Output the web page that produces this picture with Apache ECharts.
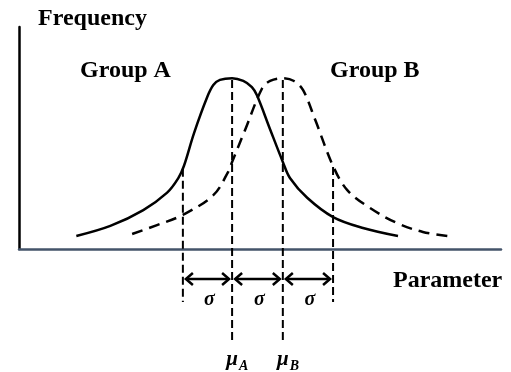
<!DOCTYPE html>
<html>
<head>
<meta charset="utf-8">
<script src="https://cdn.jsdelivr.net/npm/echarts@6/dist/echarts.min.js"></script>
<style>
html, body { margin: 0; padding: 0; background: #fff; }
#chart { width: 511px; height: 372px; }
</style>
</head>
<body>
<div id="chart"></div>
<script>
// curve of group A (solid), [parameter, frequency]
var groupA = [
  [-3.07, 0.076], [-2.40, 0.135], [-1.75, 0.228], [-1.28, 0.33], [-1.06, 0.415],
  [-0.95, 0.486], [-0.75, 0.679], [-0.49, 0.89], [-0.37, 0.96], [-0.24, 0.99],
  [0, 1.0], [0.22, 0.984], [0.39, 0.948], [0.49, 0.90], [0.75, 0.70],
  [1.0, 0.51], [1.14, 0.416], [1.48, 0.30], [1.99, 0.187], [2.58, 0.123], [3.27, 0.076]
];
// curve of group B (dashed)
var groupB = [
  [-1.97, 0.088], [-1.48, 0.14], [-0.97, 0.20], [-0.37, 0.315], [-0.08, 0.45],
  [0, 0.51], [0.26, 0.70], [0.59, 0.94], [0.75, 0.984], [0.985, 1.0],
  [1.22, 0.984], [1.40, 0.93], [1.64, 0.755], [1.99, 0.486], [2.27, 0.345],
  [2.72, 0.24], [3.25, 0.152], [3.76, 0.10], [4.26, 0.076]
];
// dashed drop lines: [x, top, bottom]
var dropLines = [[-0.97, 0.47, -0.31], [0, 0.99, -0.55], [1, 0.99, -0.55], [1.99, 0.48, -0.31]];
// sigma arrows: [from, to, level]
var sigmaArrows = [[-0.97, 0, -0.176], [0, 1, -0.176], [1, 1.99, -0.176]];
var sigmaLabelY = -0.30;
// mean markers: [x, subscript]
var muMarks = [[0, 'A'], [1, 'B']];
var muLabelY = -0.65;

var serif = '"Liberation Serif", "Times New Roman", serif';
var chart = echarts.init(document.getElementById('chart'));

chart.setOption({
  animation: false,
  grid: { left: 19, right: 10, top: 27, bottom: 123 },
  xAxis: {
    type: 'value', min: -4.2, max: 5.3,
    axisLine: { show: true, onZero: false, lineStyle: { color: '#44546A', width: 2.5 } },
    axisTick: { show: false }, axisLabel: { show: false }, splitLine: { show: false }
  },
  yAxis: {
    type: 'value', min: 0, max: 1.3,
    axisLine: { show: true, onZero: false, lineStyle: { color: '#000', width: 2.5 } },
    axisTick: { show: false }, axisLabel: { show: false }, splitLine: { show: false }
  },
  graphic: [
    { type: 'text', x: 38, y: 19, style: { text: 'Frequency', font: 'bold 24px ' + serif, fill: '#000', verticalAlign: 'middle' } },
    { type: 'text', x: 80, y: 71, style: { text: 'Group A', font: 'bold 24px ' + serif, fill: '#000', verticalAlign: 'middle' } },
    { type: 'text', x: 330, y: 71, style: { text: 'Group B', font: 'bold 24px ' + serif, fill: '#000', verticalAlign: 'middle' } },
    { type: 'text', x: 393, y: 281, style: { text: 'Parameter', font: 'bold 24px ' + serif, fill: '#000', verticalAlign: 'middle' } }
  ],
  series: [
    {
      type: 'line', data: groupA, smooth: 0.35, symbol: 'none', clip: false, silent: true,
      lineStyle: { color: '#000', width: 2.5 }
    },
    {
      type: 'line', data: groupB, smooth: 0.35, symbol: 'none', clip: false, silent: true,
      lineStyle: { color: '#000', width: 2.5, type: [11, 7] }
    },
    {
      type: 'custom', data: dropLines, clip: false, silent: true,
      renderItem: function (params, api) {
        var p1 = api.coord([api.value(0), api.value(1)]);
        var p2 = api.coord([api.value(0), api.value(2)]);
        return {
          type: 'line',
          shape: { x1: p1[0], y1: p1[1], x2: p2[0], y2: p2[1] },
          style: { stroke: '#000', lineWidth: 2, lineDash: [8, 4] }
        };
      }
    },
    {
      type: 'custom', data: sigmaArrows, clip: false, silent: true,
      renderItem: function (params, api) {
        var a = api.coord([api.value(0), api.value(2)]);
        var b = api.coord([api.value(1), api.value(2)]);
        var t = api.coord([(api.value(0) + api.value(1)) / 2, sigmaLabelY]);
        var x1 = a[0] + 3, x2 = b[0] - 3, y = a[1];
        var st = { stroke: '#000', lineWidth: 2.5, fill: null };
        return {
          type: 'group',
          children: [
            { type: 'line', shape: { x1: x1, y1: y, x2: x2, y2: y }, style: st },
            { type: 'polyline', shape: { points: [[x1 + 7, y - 6], [x1, y], [x1 + 7, y + 6]] }, style: st },
            { type: 'polyline', shape: { points: [[x2 - 7, y - 6], [x2, y], [x2 - 7, y + 6]] }, style: st },
            { type: 'text', x: t[0] + 2, y: t[1], style: { text: 'σ', font: 'italic bold 20px ' + serif, fill: '#000', align: 'center', verticalAlign: 'middle' } }
          ]
        };
      }
    },
    {
      type: 'custom', data: muMarks, clip: false, silent: true,
      dimensions: ['x', 'sub'],
      renderItem: function (params, api) {
        var p = api.coord([muMarks[params.dataIndex][0], muLabelY]);
        return {
          type: 'group',
          children: [
            { type: 'text', x: p[0], y: p[1], style: { text: 'μ', font: 'italic bold 21px ' + serif, fill: '#000', align: 'center', verticalAlign: 'middle' } },
            { type: 'text', x: p[0] + 7, y: p[1] + 6, style: { text: muMarks[params.dataIndex][1], font: 'italic bold 14px ' + serif, fill: '#000', align: 'left', verticalAlign: 'middle' } }
          ]
        };
      }
    }
  ]
});
</script>
</body>
</html>
